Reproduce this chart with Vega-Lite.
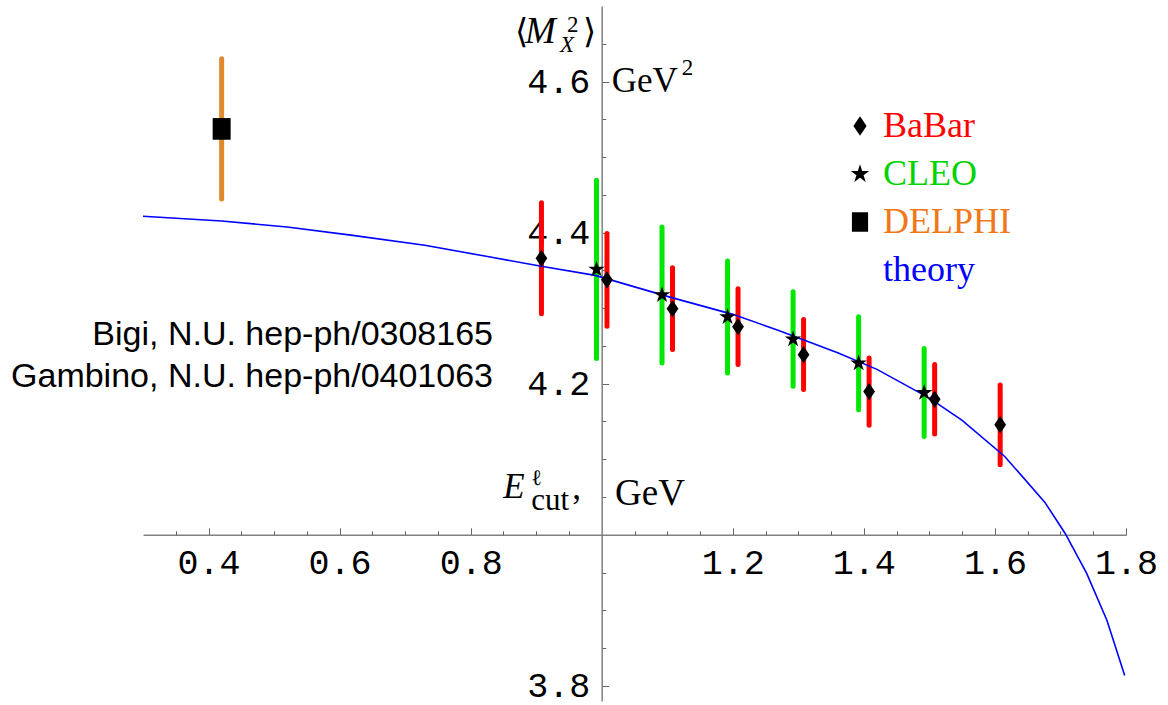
{
  "$schema": "https://vega.github.io/schema/vega-lite/v6.json",
  "width": 983,
  "height": 695,
  "autosize": {"type": "none"},
  "padding": {"left": 143, "top": 6, "right": 42, "bottom": 4},
  "background": "white",
  "config": {"view": {"stroke": null}, "axis": {"grid": false}},
  "datasets": {
    "exp": [
      {"experiment": "BaBar", "ecut": 0.908, "m2": 4.366, "lo": 4.2925, "hi": 4.4395},
      {"experiment": "BaBar", "ecut": 1.008, "m2": 4.3375, "lo": 4.2762, "hi": 4.3988},
      {"experiment": "BaBar", "ecut": 1.108, "m2": 4.2993, "lo": 4.2452, "hi": 4.3534},
      {"experiment": "BaBar", "ecut": 1.208, "m2": 4.2755, "lo": 4.2253, "hi": 4.3256},
      {"experiment": "BaBar", "ecut": 1.308, "m2": 4.2385, "lo": 4.1922, "hi": 4.2849},
      {"experiment": "BaBar", "ecut": 1.408, "m2": 4.1896, "lo": 4.145, "hi": 4.2342},
      {"experiment": "BaBar", "ecut": 1.508, "m2": 4.1794, "lo": 4.1335, "hi": 4.2253},
      {"experiment": "BaBar", "ecut": 1.608, "m2": 4.1457, "lo": 4.0928, "hi": 4.1984},
      {"experiment": "CLEO", "ecut": 0.992, "m2": 4.3514, "lo": 4.2333, "hi": 4.4695},
      {"experiment": "CLEO", "ecut": 1.092, "m2": 4.3174, "lo": 4.2275, "hi": 4.4073},
      {"experiment": "CLEO", "ecut": 1.192, "m2": 4.2883, "lo": 4.2143, "hi": 4.3623},
      {"experiment": "CLEO", "ecut": 1.292, "m2": 4.259, "lo": 4.1967, "hi": 4.3216},
      {"experiment": "CLEO", "ecut": 1.392, "m2": 4.2271, "lo": 4.1657, "hi": 4.2885},
      {"experiment": "CLEO", "ecut": 1.492, "m2": 4.188, "lo": 4.13, "hi": 4.2465},
      {"experiment": "DELPHI", "ecut": 0.42, "m2": 4.5373, "lo": 4.4444, "hi": 4.6302}
    ],
    "theory": [
      {"ecut": 0.30, "m2": 4.4216},
      {"ecut": 0.42, "m2": 4.4154},
      {"ecut": 0.52, "m2": 4.4074},
      {"ecut": 0.62, "m2": 4.3964},
      {"ecut": 0.73, "m2": 4.3832},
      {"ecut": 0.83, "m2": 4.3677},
      {"ecut": 0.91, "m2": 4.3552},
      {"ecut": 0.99, "m2": 4.3434},
      {"ecut": 1.10, "m2": 4.3156},
      {"ecut": 1.20, "m2": 4.2918},
      {"ecut": 1.27, "m2": 4.2706},
      {"ecut": 1.36, "m2": 4.2410},
      {"ecut": 1.42, "m2": 4.2190},
      {"ecut": 1.50, "m2": 4.1810},
      {"ecut": 1.55, "m2": 4.1514},
      {"ecut": 1.615, "m2": 4.1037},
      {"ecut": 1.676, "m2": 4.0432},
      {"ecut": 1.707, "m2": 4.0021},
      {"ecut": 1.74, "m2": 3.9490},
      {"ecut": 1.771, "m2": 3.8865},
      {"ecut": 1.798, "m2": 3.8137}
    ]
  },
  "resolve": {"axis": {"x": "independent", "y": "independent"}},
  "layer": [
    {
      "data": {"name": "exp"},
      "mark": {"type": "rule", "strokeWidth": 5, "strokeCap": "round"},
      "encoding": {
        "x": {"field": "ecut", "type": "quantitative",
          "scale": {"domain": [0.3, 1.8], "nice": false, "zero": false},
          "axis": {"orient": "bottom", "offset": -166.2, "values": [0.4, 0.6, 0.8, 1.2, 1.4, 1.6, 1.8], "format": ".1f",
            "tickSize": -7, "tickColor": "#666", "tickWidth": 1, "domainColor": "#808080", "domainWidth": 1.5,
            "labelFont": "Liberation Mono", "labelFontSize": 35, "labelColor": "black", "labelPadding": 18,
            "title": null, "grid": false, "labelFlush": false, "labelOverlap": false, "labelBound": false}},
        "y": {"field": "lo", "type": "quantitative",
          "scale": {"domain": [3.78, 4.7], "nice": false, "zero": false},
          "axis": {"orient": "left", "offset": -458.7, "values": [3.8, 4.2, 4.4, 4.6], "format": ".1f",
            "tickSize": -7, "tickColor": "#666", "tickWidth": 1, "domainColor": "#808080", "domainWidth": 1.5,
            "labelFont": "Liberation Mono", "labelFontSize": 35, "labelColor": "black", "labelPadding": 19,
            "title": null, "grid": false, "labelOverlap": false, "labelBound": false}},
        "y2": {"field": "hi"},
        "color": {"field": "experiment", "type": "nominal",
          "scale": {"domain": ["BaBar", "CLEO", "DELPHI"], "range": ["#ff0000", "#00e800", "#e08a30"]},
          "legend": null}
      }
    },
    {
      "data": {"name": "theory"},
      "mark": {"type": "line", "color": "#0000ff", "strokeWidth": 1.6},
      "encoding": {
        "x": {"field": "ecut", "type": "quantitative",
          "axis": {"orient": "bottom", "offset": -166.2, "values": [0.35, 0.45, 0.5, 0.55, 0.65, 0.7, 0.75, 0.85, 0.9, 0.95, 1.05, 1.1, 1.15, 1.25, 1.3, 1.35, 1.45, 1.5, 1.55, 1.65, 1.7, 1.75],
            "tickSize": -4, "tickColor": "#666", "tickWidth": 1, "domain": false, "labels": false, "title": null, "grid": false}},
        "y": {"field": "m2", "type": "quantitative",
          "axis": {"orient": "left", "offset": -458.7, "values": [3.85, 3.9, 3.95, 4.05, 4.1, 4.15, 4.25, 4.3, 4.35, 4.45, 4.5, 4.55, 4.65],
            "tickSize": -4, "tickColor": "#666", "tickWidth": 1, "domain": false, "labels": false, "title": null, "grid": false}}
      }
    },
    {
      "data": {"name": "exp"},
      "mark": {"type": "point", "filled": true, "color": "black", "opacity": 1, "strokeWidth": 0},
      "encoding": {
        "x": {"field": "ecut", "type": "quantitative", "axis": null},
        "y": {"field": "m2", "type": "quantitative", "axis": null},
        "shape": {"field": "experiment", "type": "nominal",
          "scale": {"domain": ["BaBar", "CLEO", "DELPHI", "theory"],
            "range": ["M0,-1L0.68,0L0,1L-0.68,0Z",
              "M0,-1L0.2245,-0.309L0.951,-0.309L0.363,0.118L0.588,0.809L0,0.382L-0.588,0.809L-0.363,0.118L-0.951,-0.309L-0.2245,-0.309Z",
              "M-0.83,-1L0.83,-1L0.83,1L-0.83,1Z",
              "M0,0"]},
          "legend": {"orient": "none", "legendX": 699, "legendY": 102, "title": null, "padding": 0,
            "labelFont": "Liberation Serif", "labelFontSize": 36, "labelLimit": 400,
            "labelColor": {"expr": "datum.label == 'BaBar' ? '#ff0000' : datum.label == 'CLEO' ? '#00d400' : datum.label == 'DELPHI' ? '#f07818' : '#0000ff'"},
            "symbolSize": 380, "symbolFillColor": "black", "symbolStrokeWidth": 0, "symbolOpacity": 1,
            "labelOffset": 5, "rowPadding": 12}},
        "size": {"condition": {"test": "datum.experiment === 'DELPHI'", "value": 470}, "value": 300}
      }
    },
    {
      "data": {"values": [{"t": ["Bigi, N.U. hep-ph/0308165", "Gambino, N.U. hep-ph/0401063"]}]},
      "mark": {"type": "text", "font": "Liberation Sans", "fontSize": 34, "align": "right", "baseline": "alphabetic", "lineHeight": 41.7, "color": "black"},
      "encoding": {"x": {"datum": 0.8341, "axis": null}, "y": {"datum": 4.2513, "axis": null}, "text": {"field": "t"}}
    },
    {
      "data": {"values": [{"t": "⟨"}]},
      "mark": {"type": "text", "font": "Liberation Serif, DejaVu Serif", "fontSize": 34, "align": "left", "baseline": "alphabetic", "color": "black"},
      "encoding": {"x": {"datum": 0.8677, "axis": null}, "y": {"datum": 4.6504, "axis": null}, "text": {"field": "t"}}
    },
    {
      "data": {"values": [{"t": "M"}]},
      "mark": {"type": "text", "font": "Liberation Serif", "fontStyle": "italic", "fontSize": 37, "align": "left", "baseline": "alphabetic", "dx": 10, "color": "black"},
      "encoding": {"x": {"datum": 0.8677, "axis": null}, "y": {"datum": 4.6504, "axis": null}, "text": {"field": "t"}}
    },
    {
      "data": {"values": [{"t": "2"}]},
      "mark": {"type": "text", "font": "Liberation Serif", "fontSize": 23, "align": "left", "baseline": "alphabetic", "dx": 52, "dy": -11, "color": "black"},
      "encoding": {"x": {"datum": 0.8677, "axis": null}, "y": {"datum": 4.6504, "axis": null}, "text": {"field": "t"}}
    },
    {
      "data": {"values": [{"t": "X"}]},
      "mark": {"type": "text", "font": "Liberation Serif", "fontStyle": "italic", "fontSize": 23, "align": "left", "baseline": "alphabetic", "dx": 45, "dy": 9, "color": "black"},
      "encoding": {"x": {"datum": 0.8677, "axis": null}, "y": {"datum": 4.6504, "axis": null}, "text": {"field": "t"}}
    },
    {
      "data": {"values": [{"t": "⟩"}]},
      "mark": {"type": "text", "font": "Liberation Serif, DejaVu Serif", "fontSize": 34, "align": "left", "baseline": "alphabetic", "dx": 68, "color": "black"},
      "encoding": {"x": {"datum": 0.8677, "axis": null}, "y": {"datum": 4.6504, "axis": null}, "text": {"field": "t"}}
    },
    {
      "data": {"values": [{"t": "GeV"}]},
      "mark": {"type": "text", "font": "Liberation Serif", "fontSize": 35, "align": "left", "baseline": "alphabetic", "color": "black"},
      "encoding": {"x": {"datum": 1.0152, "axis": null}, "y": {"datum": 4.5866, "axis": null}, "text": {"field": "t"}}
    },
    {
      "data": {"values": [{"t": "2"}]},
      "mark": {"type": "text", "font": "Liberation Serif", "fontSize": 23, "align": "left", "baseline": "alphabetic", "dx": 70, "dy": -17, "color": "black"},
      "encoding": {"x": {"datum": 1.0152, "axis": null}, "y": {"datum": 4.5866, "axis": null}, "text": {"field": "t"}}
    },
    {
      "data": {"values": [{"t": "E"}]},
      "mark": {"type": "text", "font": "Liberation Serif", "fontStyle": "italic", "fontSize": 35, "align": "left", "baseline": "alphabetic", "color": "black"},
      "encoding": {"x": {"datum": 0.8498, "axis": null}, "y": {"datum": 4.0483, "axis": null}, "text": {"field": "t"}}
    },
    {
      "data": {"values": [{"t": "ℓ"}]},
      "mark": {"type": "text", "font": "Liberation Serif, DejaVu Serif", "fontSize": 22, "align": "left", "baseline": "alphabetic", "dx": 28, "dy": -13, "color": "black"},
      "encoding": {"x": {"datum": 0.8498, "axis": null}, "y": {"datum": 4.0483, "axis": null}, "text": {"field": "t"}}
    },
    {
      "data": {"values": [{"t": "cut"}]},
      "mark": {"type": "text", "font": "Liberation Serif", "fontSize": 31, "align": "left", "baseline": "alphabetic", "dx": 28, "dy": 12, "color": "black"},
      "encoding": {"x": {"datum": 0.8498, "axis": null}, "y": {"datum": 4.0483, "axis": null}, "text": {"field": "t"}}
    },
    {
      "data": {"values": [{"t": ","}]},
      "mark": {"type": "text", "font": "Liberation Serif", "fontSize": 35, "align": "left", "baseline": "alphabetic", "dx": 69, "dy": 1, "color": "black"},
      "encoding": {"x": {"datum": 0.8498, "axis": null}, "y": {"datum": 4.0483, "axis": null}, "text": {"field": "t"}}
    },
    {
      "data": {"values": [{"t": "GeV"}]},
      "mark": {"type": "text", "font": "Liberation Serif", "fontSize": 37, "align": "left", "baseline": "alphabetic", "color": "black"},
      "encoding": {"x": {"datum": 1.0203, "axis": null}, "y": {"datum": 4.0394, "axis": null}, "text": {"field": "t"}}
    }
  ]
}
